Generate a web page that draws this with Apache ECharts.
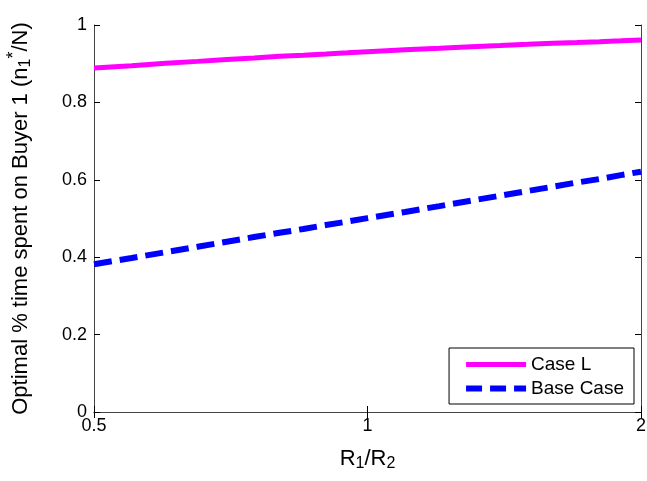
<!DOCTYPE html>
<html>
<head>
<meta charset="utf-8">
<script src="https://cdn.jsdelivr.net/npm/echarts@6/dist/echarts.min.js"></script>
<style>
  html, body { margin: 0; padding: 0; background: #fff; }
  #main { width: 647px; height: 481px; }
</style>
</head>
<body>
<div id="main"></div>
<script>
// R1/R2 ratio sample points
var ratios = [0.5, 0.55, 0.6, 0.65, 0.7, 0.75, 0.8, 0.85, 0.9, 0.95, 1,
              1.1, 1.2, 1.3, 1.4, 1.5, 1.6, 1.7, 1.8, 1.9, 2];
// Case L
var caseL = [0.889, 0.895, 0.901, 0.906, 0.911, 0.915, 0.919, 0.922, 0.925, 0.928, 0.931,
             0.936, 0.940, 0.944, 0.947, 0.950, 0.953, 0.955, 0.957, 0.959, 0.961];
// Base Case
var baseCase = [0.382, 0.398, 0.413, 0.427, 0.440, 0.452, 0.463, 0.473, 0.483, 0.492, 0.501,
                0.517, 0.532, 0.546, 0.559, 0.571, 0.582, 0.593, 0.602, 0.612, 0.621];
var yTicks = [0, 0.2, 0.4, 0.6, 0.8, 1];

var font = 'Liberation Sans, Arial, sans-serif';
var myChart = echarts.init(document.getElementById('main'));

function pairs(xs, ys) {
  var out = [];
  for (var i = 0; i < xs.length; i++) out.push([xs[i], ys[i]]);
  return out;
}

var option = {
  animation: false,
  backgroundColor: '#fff',
  grid: { left: 94, right: 6, top: 25, bottom: 69, outerBoundsMode: 'none' },
  legend: {
    show: true,
    right: 13, bottom: 77,
    orient: 'vertical',
    backgroundColor: '#fff',
    borderColor: '#000',
    borderWidth: 1,
    padding: [7, 10, 6, 14],
    itemWidth: 60,
    itemHeight: 14,
    itemGap: 5,
    itemStyle: { opacity: 0 },
    textStyle: { fontFamily: font, fontSize: 19, color: '#000' },
    data: [
      { name: 'Case L', lineStyle: { width: 5, color: '#ff00ff' } },
      { name: 'Base Case', lineStyle: { width: 6, color: '#0000ff', type: [16, 8] } }
    ]
  },
  xAxis: [{
    type: 'log', logBase: 2, min: 0.5, max: 2,
    position: 'bottom',
    name: '{b|R}{s|1}{b|/R}{s|2}',
    nameLocation: 'middle', nameGap: 36,
    nameTextStyle: {
      rich: {
        b: { fontFamily: font, fontSize: 22, color: '#000' },
        s: { fontFamily: font, fontSize: 16, color: '#000', padding: [0, 0, -9, 0] }
      }
    },
    axisLine: { lineStyle: { color: '#444', width: 1 } },
    axisTick: { inside: true, length: 6, lineStyle: { color: '#000' } },
    splitLine: { show: false },
    minorTick: { show: false },
    axisLabel: {
      fontFamily: font, fontSize: 18, color: '#000', margin: 5,
      formatter: function (v) { return String(Math.round(v * 100) / 100); }
    }
  }, {
    type: 'log', logBase: 2, min: 0.5, max: 2,
    position: 'top',
    axisLine: { lineStyle: { color: '#444', width: 1 } },
    axisTick: { inside: true, length: 6, lineStyle: { color: '#000' } },
    splitLine: { show: false },
    axisLabel: { show: false }
  }],
  yAxis: [{
    type: 'value', min: 0, max: 1, interval: 0.2,
    position: 'left',
    name: 'Optimal % time spent on Buyer 1 (n{s|1}{p|*}/N)',
    nameLocation: 'middle', nameGap: 62, nameRotate: 90,
    nameTextStyle: {
      fontFamily: font, fontSize: 22, color: '#000',
      rich: {
        s: { fontFamily: font, fontSize: 16, color: '#000', padding: [0, 0, -9, 0] },
        p: { fontFamily: font, fontSize: 18, color: '#000', padding: [-14, 0, 0, 0] }
      }
    },
    axisLine: { lineStyle: { color: '#444', width: 1 } },
    axisTick: { inside: true, length: 6, lineStyle: { color: '#000' } },
    splitLine: { show: false },
    axisLabel: {
      fontFamily: font, fontSize: 18, color: '#000', margin: 7,
      formatter: function (v) { return yTicks.indexOf(v) >= 0 ? String(v) : ''; }
    }
  }, {
    type: 'value', min: 0, max: 1, interval: 0.2,
    position: 'right',
    axisLine: { show: true, lineStyle: { color: '#444', width: 1 } },
    axisTick: { show: true, inside: true, length: 6, lineStyle: { color: '#000' } },
    splitLine: { show: false },
    axisLabel: { show: false }
  }],
  series: [{
    name: 'Case L',
    type: 'line',
    symbol: 'none',
    color: '#ff00ff',
    lineStyle: { color: '#ff00ff', width: 5 },
    data: pairs(ratios, caseL)
  }, {
    name: 'Base Case',
    type: 'line',
    symbol: 'none',
    color: '#0000ff',
    lineStyle: { color: '#0000ff', width: 6, type: [18, 8] },
    data: pairs(ratios, baseCase)
  }]
};
myChart.setOption(option, true);
</script>
</body>
</html>
